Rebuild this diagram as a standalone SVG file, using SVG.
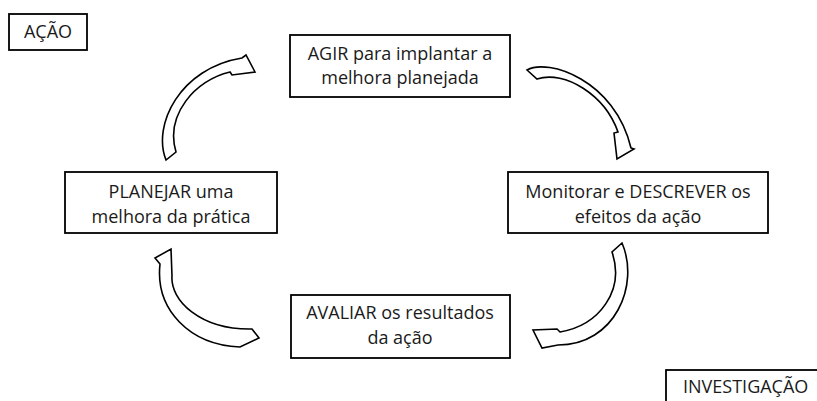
<svg xmlns="http://www.w3.org/2000/svg" width="817" height="401" viewBox="0 0 817 401">
<style>
.box{fill:#fff;stroke:#000;stroke-width:1.8}
.arr{fill:#fff;stroke:#000;stroke-width:1.6;stroke-linejoin:miter}
text{font-family:"Open Sans","Liberation Sans",sans-serif;font-size:18px;fill:#1a1a1a}
.c{text-anchor:middle}
</style>
<rect width="817" height="401" fill="#fff"/>
<g id="acao">
<rect class="box" x="9" y="14" width="78" height="36"/>
<text class="c" x="48" y="38">AÇÃO</text>
</g>
<g id="investigacao">
<rect class="box" x="666" y="370" width="170" height="50"/>
<text x="683" y="393">INVESTIGAÇÃO</text>
</g>
<g id="agir">
<rect class="box" x="290" y="35" width="220" height="62"/>
<text class="c" x="400" y="60">AGIR para implantar a</text>
<text class="c" x="400" y="84">melhora planejada</text>
</g>
<g id="planejar">
<rect class="box" x="65" y="172" width="212" height="61"/>
<text class="c" x="171" y="198">PLANEJAR uma</text>
<text class="c" x="171" y="223">melhora da prática</text>
</g>
<g id="monitorar">
<rect class="box" x="508" y="172" width="260" height="61"/>
<text class="c" x="638" y="198">Monitorar e DESCREVER os</text>
<text class="c" x="638" y="223">efeitos da ação</text>
</g>
<g id="avaliar">
<rect class="box" x="291" y="295" width="219" height="63"/>
<text class="c" x="400" y="319">AVALIAR os resultados</text>
<text class="c" x="400" y="344">da ação</text>
</g>
<g id="connectors">
<path class="arr" d="M166,160 C152,125 180,68 242,58 L246,55 L255,72 L232,75 L230,72 C195,80 165,115 176,152 Z"/>
<path class="arr" d="M527,70 C548,58 615,80 631,148 L634,149 L617,159 L614,133 L618,132 C605,95 565,70 537,79 Z"/>
<path class="arr" d="M622,243 C640,285 615,345 558,345 L542,348 L533,330 L557,329 L560,332 C600,325 625,290 612,252 Z"/>
<path class="arr" d="M171,249 L172,276 C170,300 200,330 252,329 L259,338 L240,347 C190,345 155,310 160,264 L155,258 Z"/>
</g>
</svg>
